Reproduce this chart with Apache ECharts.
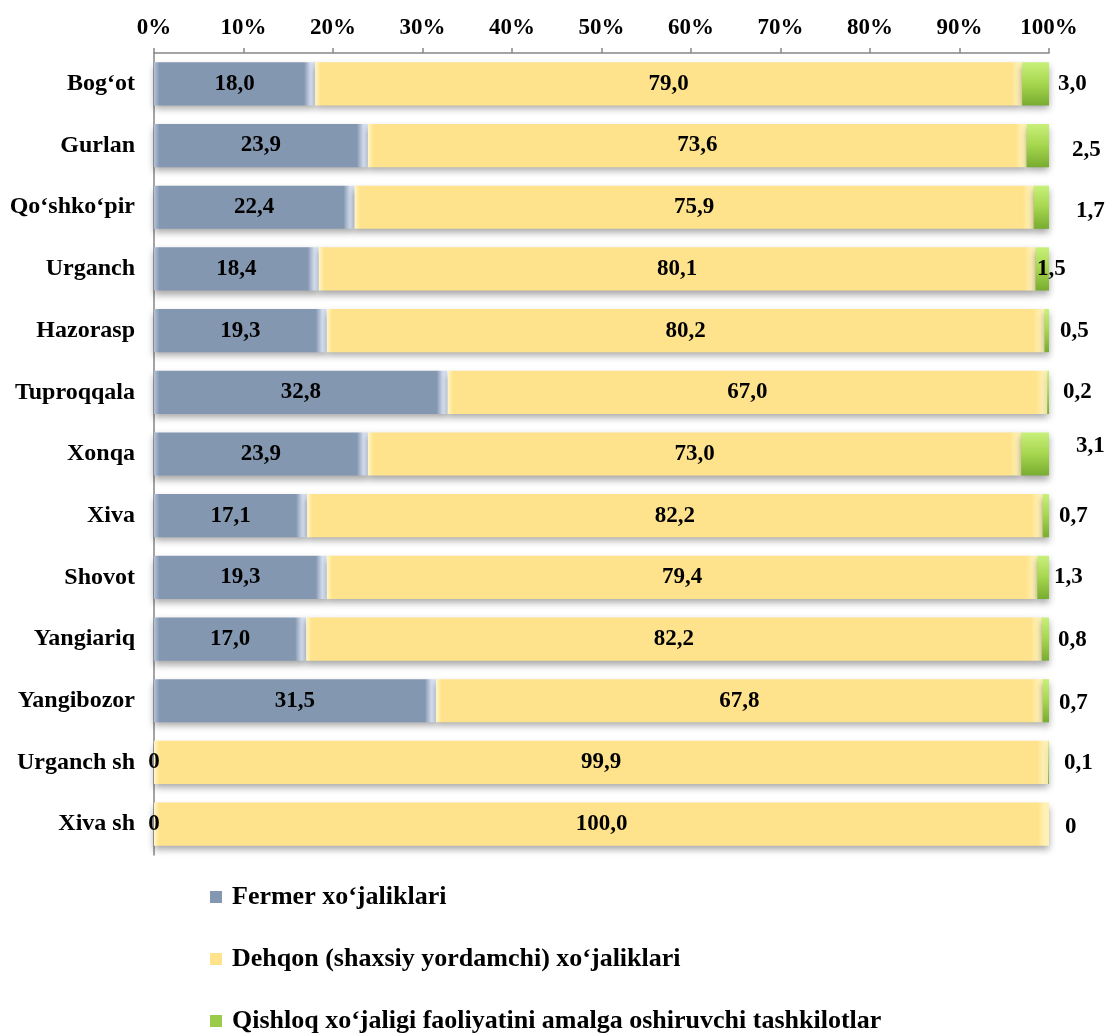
<!DOCTYPE html>
<html>
<head>
<meta charset="utf-8">
<script src="https://cdn.jsdelivr.net/npm/echarts@6/dist/echarts.min.js"></script>
<style>
    html, body { margin: 0; padding: 0; background: #fff; }
    #chart { width: 1106px; height: 1035px; }
</style>
</head>
<body>
<div id="chart"></div>
<script>
var regions = ['Bog‘ot', 'Gurlan', 'Qo‘shko‘pir', 'Urganch', 'Hazorasp', 'Tuproqqala', 'Xonqa',
    'Xiva', 'Shovot', 'Yangiariq', 'Yangibozor', 'Urganch sh', 'Xiva sh'];
var fermer = [18.0, 23.9, 22.4, 18.4, 19.3, 32.8, 23.9, 17.1, 19.3, 17.0, 31.5, 0, 0];
var dehqon = [79.0, 73.6, 75.9, 80.1, 80.2, 67.0, 73.0, 82.2, 79.4, 82.2, 67.8, 99.9, 100.0];
var tashkilot = [3.0, 2.5, 1.7, 1.5, 0.5, 0.2, 3.1, 0.7, 1.3, 0.8, 0.7, 0.1, 0];
var seriesNames = ['Fermer xo‘jaliklari', 'Dehqon (shaxsiy yordamchi) xo‘jaliklari',
    'Qishloq xo‘jaligi faoliyatini amalga oshiruvchi tashkilotlar'];

// the green labels were hand-moved in the original, nudge them the same way
var greenNudge = [[4, 0], [18, 5], [22, 4], [-17, 0], [6, 0], [9, 0], [22, -8],
    [5, 0], [0, 0], [4, 1], [5, 2], [10, 1], [11, 3]];

var font = '"Liberation Serif", "Times New Roman", serif';
var pxPerUnit = 895 / 100;

function fmt(v) {
    return v === 0 ? '0' : v.toFixed(1).replace('.', ',');
}

// bevelled ends: fixed pixel width of lighter colour at both ends of a bar
function bevel(v, light, base, lightR) {
    var w = Math.max(v * pxPerUnit, 1);
    var f = Math.min(0.45, 11 / w);
    return new echarts.graphic.LinearGradient(0, 0, 1, 0, [
        {offset: 0, color: light},
        {offset: f * 0.5, color: base},
        {offset: 1 - f, color: base},
        {offset: 1 - f * 0.4, color: lightR},
        {offset: 1, color: lightR}
    ]);
}

var shadow = {shadowColor: 'rgba(0,0,0,0.35)', shadowBlur: 7, shadowOffsetY: 4};

var labelBase = {fontFamily: font, fontWeight: 'bold', fontSize: 23, color: '#000'};

var chart = echarts.init(document.getElementById('chart'));
var option = {
    animation: false,
    textStyle: {fontFamily: font},
    grid: {left: 154, right: 57, top: 53, height: 802},
    legend: {
        orient: 'vertical',
        left: 210,
        top: 884,
        height: 151,
        padding: 0,
        itemWidth: 12,
        itemHeight: 12,
        itemGap: 36,
        icon: 'rect',
        textStyle: {fontFamily: font, fontWeight: 'bold', fontSize: 26, color: '#000', lineHeight: 26, padding: [0, 0, 0, 5]},
        data: seriesNames
    },
    xAxis: {
        type: 'value',
        position: 'top',
        min: 0,
        max: 100,
        interval: 10,
        axisLine: {show: true, lineStyle: {color: '#868686', width: 1.5}},
        axisTick: {show: true, length: 5, lineStyle: {color: '#868686', width: 1.5}},
        splitLine: {show: false},
        axisLabel: {
            formatter: '{value}%',
            margin: 13,
            fontFamily: font, fontWeight: 'bold', fontSize: 23, color: '#000'
        }
    },
    yAxis: {
        type: 'category',
        inverse: true,
        data: regions,
        axisLine: {show: true, lineStyle: {color: '#868686', width: 1.5}},
        axisTick: {show: false},
        axisLabel: {margin: 19, fontFamily: font, fontWeight: 'bold', fontSize: 24, color: '#000'}
    },
    series: [
        {
            name: seriesNames[0],
            type: 'bar',
            stack: 'all',
            barCategoryGap: '30%',
            itemStyle: {color: '#8497B0'},
            label: Object.assign({show: true, position: 'inside', formatter: function (p) { return fmt(p.value); }}, labelBase),
            data: fermer.map(function (v) {
                return {value: v, itemStyle: Object.assign({color: bevel(v, '#B3C2DA', '#8497B0', '#D4DEF0')}, shadow)};
            })
        },
        {
            name: seriesNames[1],
            type: 'bar',
            stack: 'all',
            itemStyle: {color: '#FFE38C'},
            label: Object.assign({show: true, position: 'inside', formatter: function (p) { return fmt(p.value); }}, labelBase),
            data: dehqon.map(function (v) {
                return {value: v, itemStyle: Object.assign({color: bevel(v, '#FFF6C8', '#FFE38C', '#FFF1B4')}, shadow)};
            })
        },
        {
            name: seriesNames[2],
            type: 'bar',
            stack: 'all',
            itemStyle: {color: '#9BCB4A'},
            data: tashkilot.map(function (v, i) {
                return {
                    value: v,
                    itemStyle: Object.assign({
                        color: new echarts.graphic.LinearGradient(0, 0, 0, 1, [
                            {offset: 0, color: '#C8F07A'},
                            {offset: 0.5, color: '#A6D64E'},
                            {offset: 1, color: '#78AC30'}
                        ])
                    }, shadow),
                    label: Object.assign({
                        show: true,
                        position: 'right',
                        distance: 5,
                        offset: greenNudge[i],
                        formatter: fmt(v)
                    }, labelBase)
                };
            })
        }
    ]
};
chart.setOption(option);
</script>
</body>
</html>
